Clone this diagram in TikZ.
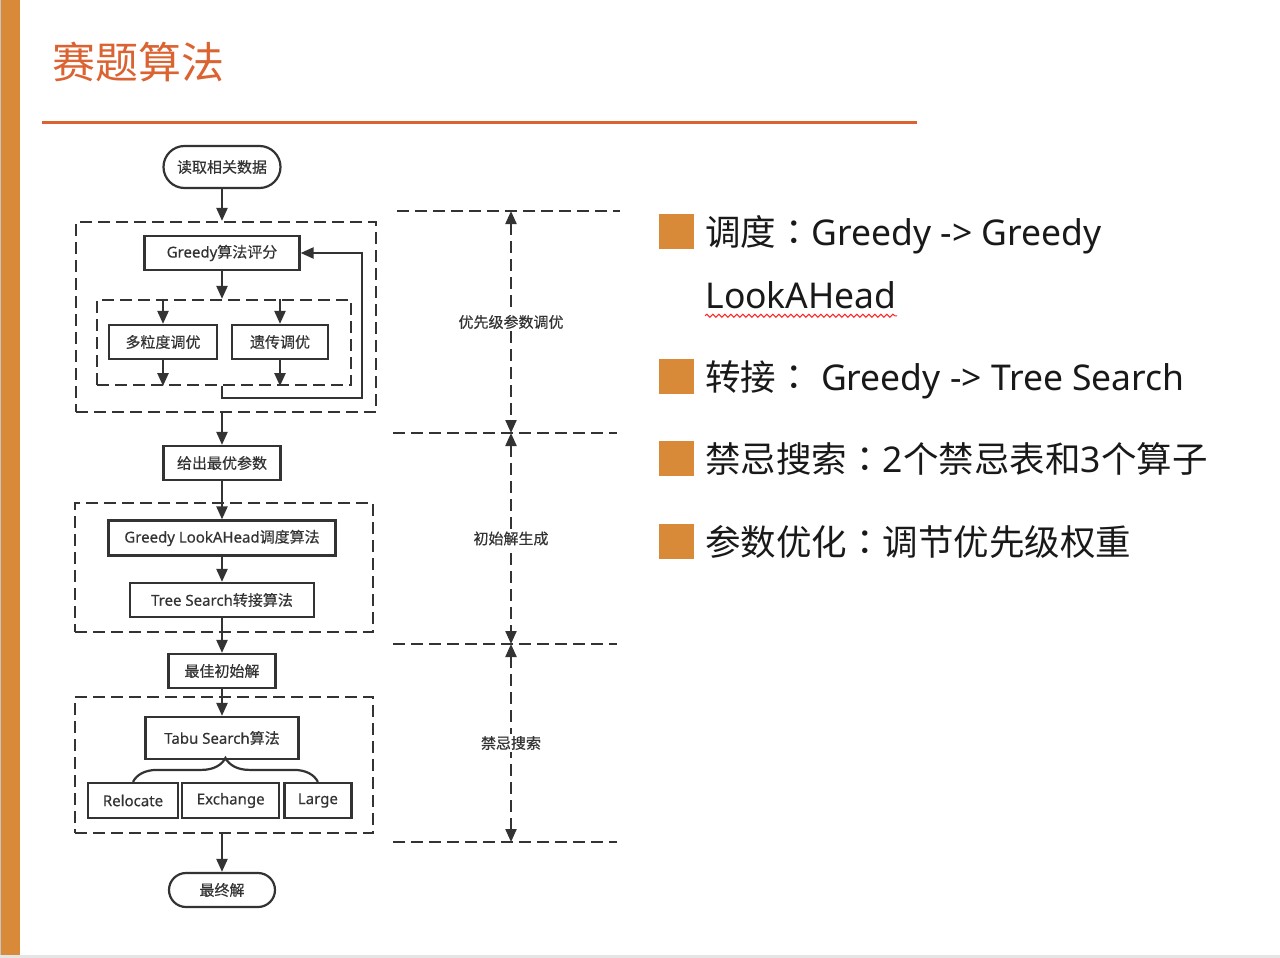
\documentclass[tikz,border=0pt]{standalone}
\usepackage{fontspec}
\setmainfont{Noto Sans CJK SC}
\newfontfamily\flowcjk[FakeBold=0.4]{Noto Sans CJK SC}
\newfontfamily\flowlatin[FakeBold=0.4]{Noto Sans}
\newfontfamily\pointlatin{Noto Sans}
\newfontfamily\tccolon{Noto Sans CJK TC}
\usetikzlibrary{arrows.meta,positioning,decorations.pathreplacing,decorations.pathmorphing}
\definecolor{barorange}{HTML}{D98A38}
\definecolor{titlered}{HTML}{DB6231}
\definecolor{inkgray}{HTML}{333333}
\newcommand{\colonmark}{{\tccolon ：}}
\newcommand{\fl}[1]{{\flowlatin #1}}
\newcommand{\pl}[1]{{\pointlatin #1}}

\begin{document}
\begin{tikzpicture}[
    x=0.5pt, y=-0.5pt,
    flowfont/.style={font=\flowcjk\fontsize{7.5}{9}\selectfont, text=inkgray},
    block/.style={rectangle, draw=inkgray, line width=1.1pt, fill=white, flowfont,
        minimum height=17pt, inner sep=0pt},
    terminal/.style={block, rounded corners=8.5pt},
    group/.style={rectangle, draw=inkgray, line width=1.1pt, dash pattern=on 6pt off 3pt, inner sep=0pt},
    arrow/.style={-{Triangle[length=6.5pt, width=5.5pt]}, line width=1.1pt, draw=inkgray},
    guide/.style={draw=inkgray, line width=1.1pt, dash pattern=on 6pt off 3pt},
    span/.style={{Triangle[length=6.5pt, width=5.5pt]}-{Triangle[length=6.5pt, width=5.5pt]}, guide},
    spanlabel/.style={flowfont, fill=white, inner sep=1pt},
    bullet/.style={rectangle, fill=barorange, minimum size=17.5pt, inner sep=0pt},
    point/.style={anchor=base west, inner sep=0pt, font=\fontsize{17.75}{20}\selectfont, text=black!90},
    squiggle/.style={draw=red!85, line width=0.5pt, decorate,
        decoration={snake, amplitude=0.8pt, segment length=3pt}}
]
% page, side bar and title
\fill[white] (0,0) rectangle (1280,958);
\useasboundingbox (0,0) rectangle (1280,958);
\fill[gray!45] (0,0) rectangle (1,958);
\fill[barorange] (1,0) rectangle (20,955);
\fill[gray!20] (0,955) rectangle (1280,958);
\node[anchor=west, inner sep=0pt, font=\fontsize{21.5}{24}\selectfont, text=titlered] (title) at (52,62) {赛题算法};
\draw[titlered, line width=1.5pt] (42,122) -- (917,122);

% flow chart
\node[terminal, minimum width=58.5pt, minimum height=21pt, rounded corners=10.5pt] (read) at (222,167) {读取相关数据};
\node[group, minimum width=150pt, minimum height=95pt] (tune) at (226,317) {};
\node[block, minimum width=77.5pt] (score) at (222,253) {\fl{Greedy}算法评分};
\node[group, minimum width=127pt, minimum height=42.5pt] (tunein) at (224,342.5) {};
\node[block, minimum width=54pt] (multi) at (163,342) {多粒度调优};
\node[block, minimum width=48pt] (genetic) at (280,342) {遗传调优};
\coordinate (loop) at (362,398);

\node[block, minimum width=58.5pt] (params) at (222,463) {给出最优参数};
\node[group, minimum width=149pt, minimum height=64.5pt] (initgrp) at (224,567.5) {};
\node[block, minimum width=113.5pt, minimum height=17.5pt] (lookahead) at (222,538) {\fl{Greedy LookAHead}调度算法};
\node[block, minimum width=92pt] (treesearch) at (222,600) {\fl{Tree Search}转接算法};

\node[block, minimum width=53.5pt] (bestinit) at (222,671) {最佳初始解};
\node[group, minimum width=149pt, minimum height=68pt] (tabugrp) at (224,765) {};
\node[block, minimum width=76.5pt, minimum height=21pt] (tabu) at (222,738) {\fl{Tabu Search}算法};
\node[block, minimum width=45pt, minimum height=17.5pt] (relocate) at (133,800.5) {\fl{Relocate}};
\node[block, minimum width=48.5pt, minimum height=17.5pt, right=1pt of relocate] (exchange) {\fl{Exchange}};
\node[block, minimum width=33.5pt, minimum height=17.5pt, right=1.5pt of exchange] (large) {\fl{Large}};
\node[terminal, minimum width=53pt] (final) at (222,890) {最终解};

\draw[arrow] (read) -- (read |- tune.north);
\draw[arrow] (score) -- (score |- tunein.north);
\draw[arrow] (multi |- tunein.north) -- (multi);
\draw[arrow] (genetic |- tunein.north) -- (genetic);
\draw[arrow] (multi) -- (multi |- tunein.south);
\draw[arrow] (genetic) -- (genetic |- tunein.south);
\draw[arrow] (score |- tunein.south) |- (loop) |- (score);
\draw[arrow] (params |- tune.south) -- (params);
\draw[arrow] (params) -- (lookahead);
\draw[arrow] (lookahead) -- (treesearch);
\draw[arrow] (treesearch) -- (bestinit);
\draw[arrow] (bestinit) -- (tabu);
\draw[line width=1.1pt, draw=inkgray, decorate, decoration={brace, amplitude=12pt}] (relocate.north) -- (large.north);
\draw[arrow] (final |- tabugrp.south) -- (final);

% stage spans
\coordinate (s1) at (511,211);
\coordinate (s2) at (511,433);
\coordinate (s3) at (511,644);
\coordinate (s4) at (511,842);
\draw[guide] ([xshift=-57pt]s1) -- ([xshift=54.5pt]s1);
\draw[guide] ([xshift=-59pt]s2) -- ([xshift=53pt]s2);
\draw[guide] ([xshift=-59pt]s3) -- ([xshift=53pt]s3);
\draw[guide] ([xshift=-59pt]s4) -- ([xshift=53pt]s4);
\draw[span] (s1) -- node[spanlabel] {优先级参数调优} (s2);
\draw[span] (s2) -- node[spanlabel] {初始解生成} (s3);
\draw[span] (s3) -- node[spanlabel] {禁忌搜索} (s4);

% key points
\node[bullet] (b1) at (676.5,231) {};
\node[point] (p1) at (705,245) {调度\colonmark\pl{Greedy -> Greedy}};
\node[point] (p1b) at (705,308) {\pl{LookAHead}};
\draw[squiggle] ([yshift=-3.5pt]p1b.south west) -- ([yshift=-3.5pt]p1b.south east);
\node[bullet] (b2) at (676.5,376) {};
\node[point] (p2) at (705,390) {转接\colonmark\pl{ Greedy -> Tree Search}};
\node[bullet] (b3) at (676.5,458) {};
\node[point] (p3) at (705,472) {禁忌搜索\colonmark\pl{2}个禁忌表和\pl{3}个算子};
\node[bullet] (b4) at (676.5,541) {};
\node[point] (p4) at (705,555) {参数优化\colonmark 调节优先级权重};
\end{tikzpicture}
\end{document}
